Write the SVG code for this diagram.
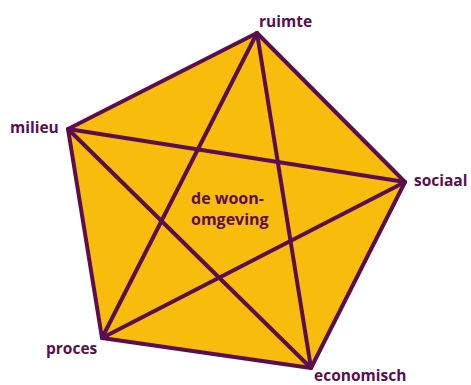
<svg xmlns="http://www.w3.org/2000/svg" width="471" height="385" viewBox="0 0 471 385">
<style>
.lbl{font-family:"Open Sans","Noto Sans",sans-serif;font-weight:700;font-size:15.5px;fill:#5A0E4F}
.c{font-size:16px}
.edge{stroke:#5A0E4F;stroke-width:4;stroke-linejoin:round;stroke-linecap:round;fill:none}
</style>
<rect width="471" height="385" fill="#fff"/>
<g id="pentagon">
<polygon points="257,33 405,182 311,368 102,338 68,129" style="fill:#F8BC0C;stroke:#5A0E4F;stroke-width:4;stroke-linejoin:round"/>
</g>
<g id="connectors">
<line class="edge" x1="257" y1="33" x2="102" y2="338"/>
<line class="edge" x1="257" y1="33" x2="311" y2="368"/>
<line class="edge" x1="68" y1="129" x2="405" y2="182"/>
<line class="edge" x1="68" y1="129" x2="311" y2="368"/>
<line class="edge" x1="405" y1="182" x2="102" y2="338"/>
</g>
<g id="ruimte"><text class="lbl" x="259" y="27">ruimte</text></g>
<g id="milieu"><text class="lbl" x="10" y="133">milieu</text></g>
<g id="sociaal"><text class="lbl" x="414" y="186">sociaal</text></g>
<g id="proces"><text class="lbl" x="46" y="354">proces</text></g>
<g id="economisch"><text class="lbl" x="314" y="381">economisch</text></g>
<g id="center"><text class="lbl c" x="191" y="204">de woon-</text><text class="lbl c" x="191" y="225">omgeving</text></g>
</svg>
